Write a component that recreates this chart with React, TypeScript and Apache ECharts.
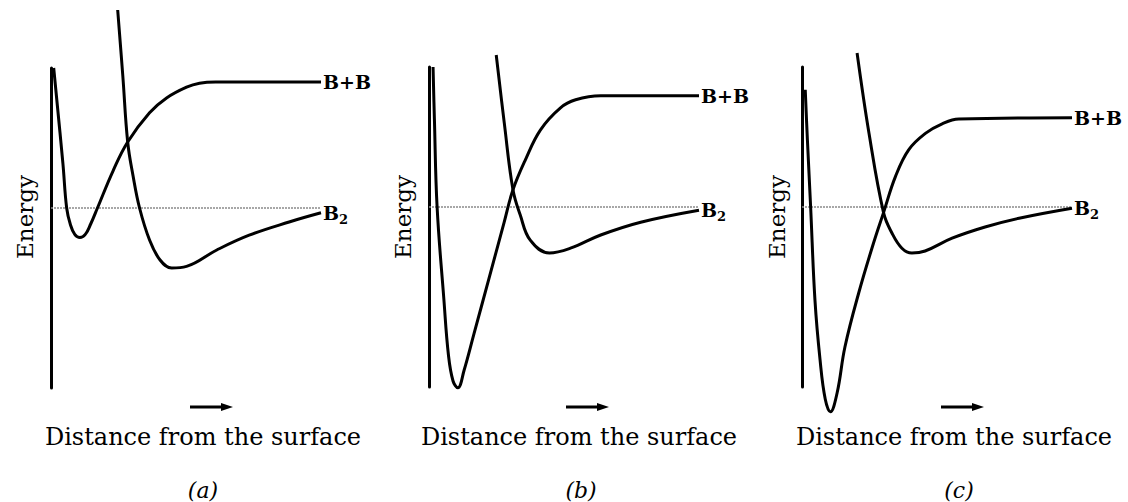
import { useEffect, useRef } from "react";
import * as echarts from "echarts";

type Pt = [number, number];

// Axis and label texts
const ATOM_LABEL = "B+B";
const X_LABEL = "Distance from the surface";
const Y_LABEL = "Energy";
const PANEL_TAGS = ["(a)", "(b)", "(c)"];

// Energy scale (B2 level = 0) and distance scale shared by every panel
const E_MIN = -4.5;
const E_MAX = 3.5;
const D_MIN = 0;
const D_MAX = 10;

// Panel (a): B+B (atomic) and B2 (molecular) potential curves  [distance, energy]
const atomA: Pt[] = [
  [0.1, 3.5], [0.44, 1.12], [0.58, 0], [0.72, -0.42], [0.88, -0.66], [1.07, -0.74],
  [1.27, -0.66], [1.47, -0.4], [1.72, 0], [2.3, 0.93], [2.84, 1.65], [3.65, 2.38],
  [4.28, 2.75], [5.02, 3.02], [5.5, 3.12], [6.1, 3.15], [10, 3.15],
];
const molA: Pt[] = [
  [2.47, 4.95], [2.66, 3.3], [2.84, 1.65], [3.04, 0.8], [3.28, 0], [3.65, -0.8],
  [4.04, -1.3], [4.47, -1.5], [5.02, -1.46], [6.14, -1.05], [7.34, -0.68],
  [8.82, -0.35], [10, -0.12],
];

// Panel (b)
const atomB: Pt[] = [
  [0.15, 3.5], [0.2, 2.2], [0.3, 0], [0.55, -2.3], [0.72, -3.7], [0.89, -4.35],
  [1.07, -4.52], [1.3, -4.08], [1.67, -3.16], [2.22, -1.79], [2.78, -0.39],
  [3.11, 0.43], [3.57, 1.18], [4.13, 1.93], [4.87, 2.48], [5.43, 2.68], [6.36, 2.78],
  [10, 2.78],
];
const molB: Pt[] = [
  [2.49, 3.8], [2.79, 2.09], [3.11, 0.43], [3.38, -0.2], [3.75, -0.83], [4.46, -1.15],
  [5.24, -1.03], [6.36, -0.7], [7.84, -0.38], [10, -0.08],
];

// Panel (c)
const atomC: Pt[] = [
  [0.12, 2.93], [0.2, 1.68], [0.32, 0], [0.48, -2.33], [0.67, -3.83], [0.86, -4.8],
  [1.05, -5.12], [1.3, -4.65], [1.59, -3.5], [2.1, -2.15], [2.65, -0.9], [3.02, -0.14],
  [3.46, 0.76], [3.95, 1.43], [4.57, 1.84], [5.19, 2.08], [5.81, 2.2], [10, 2.23],
];
const molC: Pt[] = [
  [2.04, 3.85], [2.48, 1.85], [3.02, -0.14], [3.33, -0.65], [3.7, -1.03], [4.07, -1.15],
  [4.56, -1.1], [5.56, -0.78], [6.78, -0.5], [8.04, -0.28], [10, -0.03],
];

const atomCurves = [atomA, atomB, atomC];
const molCurves = [molA, molB, molC];

// Layout of the three panels (pixels)
const PLOT_LEFT = [51, 429, 802];
const PLOT_TOP = [68, 67, 67];
const PLOT_W = 270;
const PLOT_H = 320;
const YLABEL_X = [25, 403, 777];
const CAPTION_X = [203, 579, 954];
const TAG_X = [203, 581, 959];

const SERIF = "DejaVu Serif";

export default function App() {
  const ref = useRef<HTMLDivElement>(null);

  useEffect(() => {
    document.body.style.margin = "0";
    if (!ref.current) return;
    const chart = echarts.init(ref.current, null, { renderer: "svg" });

    const grid: any[] = [];
    const xAxis: any[] = [];
    const yAxis: any[] = [];
    const series: any[] = [];
    const graphic: any[] = [];

    for (let i = 0; i < 3; i++) {
      grid.push({ left: PLOT_LEFT[i], top: PLOT_TOP[i], width: PLOT_W, height: PLOT_H });
      xAxis.push({ type: "value", gridIndex: i, min: D_MIN, max: D_MAX, show: false });
      yAxis.push({
        type: "value",
        gridIndex: i,
        min: E_MIN,
        max: E_MAX,
        axisLine: { show: true, onZero: false, lineStyle: { color: "#000", width: 3 } },
        axisTick: { show: false },
        axisLabel: { show: false },
        splitLine: { show: false },
      });

      // B2 reference level
      series.push({
        type: "line",
        xAxisIndex: i,
        yAxisIndex: i,
        data: [[D_MIN, 0], [D_MAX, 0]],
        symbol: "none",
        silent: true,
        z: 1,
        lineStyle: { color: "#8a8a8a", width: 1.5, type: [2, 1] },
      });

      series.push({
        type: "line",
        name: ATOM_LABEL,
        xAxisIndex: i,
        yAxisIndex: i,
        data: atomCurves[i],
        smooth: 0.4,
        symbol: "none",
        clip: false,
        silent: true,
        z: 3,
        lineStyle: { color: "#000", width: 3 },
        endLabel: {
          show: true,
          formatter: ATOM_LABEL,
          distance: 2,
          color: "#000",
          fontFamily: SERIF,
          fontSize: 19,
          fontWeight: "bold",
        },
      });

      series.push({
        type: "line",
        name: "B2",
        xAxisIndex: i,
        yAxisIndex: i,
        data: molCurves[i],
        smooth: 0.4,
        symbol: "none",
        clip: false,
        silent: true,
        z: 3,
        lineStyle: { color: "#000", width: 3 },
        endLabel: {
          show: true,
          formatter: "{m|B}{s|2}",
          distance: 2,
          rich: {
            m: { fontFamily: SERIF, fontSize: 19, fontWeight: "bold", color: "#000", lineHeight: 26 },
            s: { fontFamily: SERIF, fontSize: 13, fontWeight: "bold", color: "#000", verticalAlign: "bottom", lineHeight: 13 },
          },
        },
      });

      // Axis title, direction arrow, caption and panel tag
      graphic.push({
        type: "text",
        x: YLABEL_X[i],
        y: 217,
        rotation: Math.PI / 2,
        style: {
          text: Y_LABEL,
          fontFamily: SERIF,
          fontSize: 23,
          fill: "#000",
          align: "center",
          verticalAlign: "middle",
          textAlign: "center",
          textVerticalAlign: "middle",
        },
      });
      const cx = CAPTION_X[i];
      graphic.push({
        type: "line",
        shape: { x1: cx - 13, y1: 407, x2: cx + 22, y2: 407 },
        style: { stroke: "#000", lineWidth: 3 },
      });
      graphic.push({
        type: "polygon",
        shape: { points: [[cx + 18, 403], [cx + 30, 407], [cx + 18, 411]] },
        style: { fill: "#000" },
      });
      graphic.push({
        type: "text",
        x: cx,
        y: 437,
        style: {
          text: X_LABEL,
          fontFamily: SERIF,
          fontSize: 24,
          fill: "#000",
          align: "center",
          verticalAlign: "middle",
          textAlign: "center",
          textVerticalAlign: "middle",
        },
      });
      graphic.push({
        type: "text",
        x: TAG_X[i],
        y: 490,
        style: {
          text: PANEL_TAGS[i],
          fontFamily: SERIF,
          fontSize: 22,
          fontStyle: "italic",
          fill: "#000",
          align: "center",
          verticalAlign: "middle",
          textAlign: "center",
          textVerticalAlign: "middle",
        },
      });
    }

    chart.setOption({
      animation: false,
      backgroundColor: "#fff",
      grid,
      xAxis,
      yAxis,
      series,
      graphic: { elements: graphic },
    });

    return () => chart.dispose();
  }, []);

  return <div ref={ref} style={{ width: 1128, height: 502 }} />;
}
